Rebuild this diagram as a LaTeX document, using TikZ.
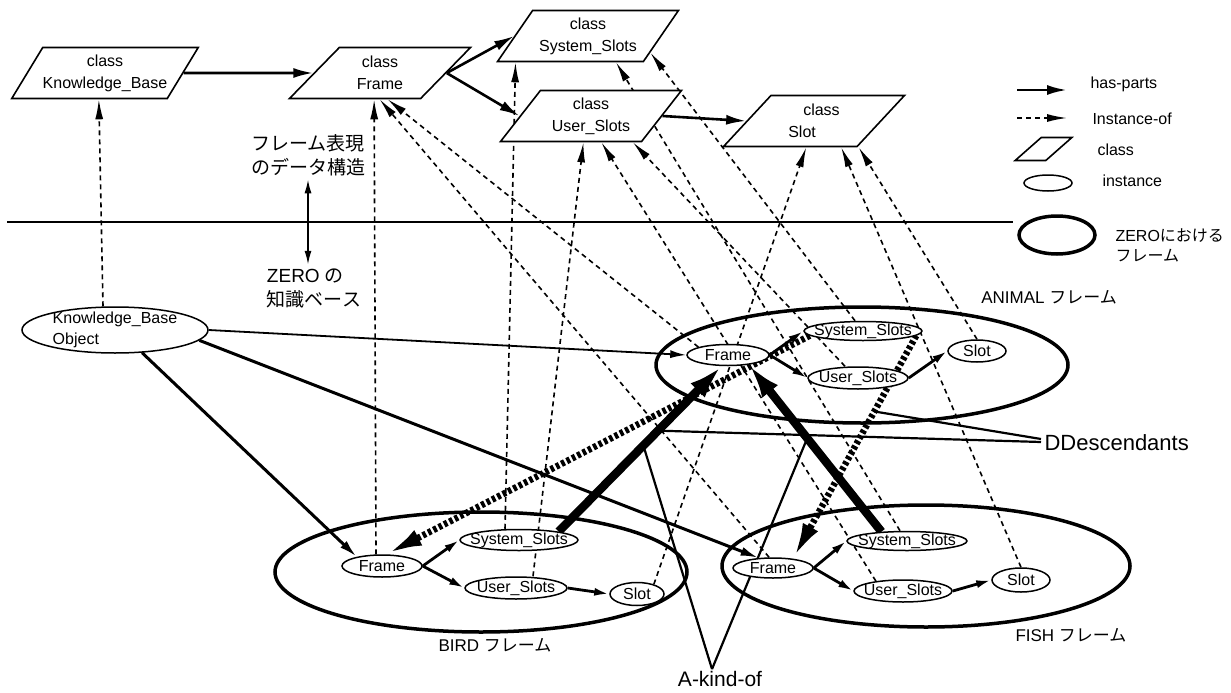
\documentclass[tikz,border=0pt]{standalone}
\usepackage{fontspec}
\setmainfont{Liberation Sans}
\newfontfamily\jpfont{Noto Sans CJK JP}
\usetikzlibrary{shapes.geometric,arrows.meta}
\pgfdeclarelayer{bg}
\pgfsetlayers{bg,main}

\begin{document}
\begin{tikzpicture}[x=1pt,y=-1pt,font=\fontsize{16}{19}\selectfont,
  cls/.style={draw,fill=white,line width=1.6pt,trapezium,trapezium left angle=50,trapezium right angle=130,
              trapezium stretches=true,minimum width=181pt,minimum height=51pt,inner sep=0pt,
              align=center,font=\fontsize{16}{22}\selectfont},
  inst/.style={draw,fill=white,ellipse,line width=1.5pt,inner xsep=-15pt,inner ysep=-3pt,font=\fontsize{16}{18}\selectfont},
  zframe/.style={draw,ellipse,line width=3.5pt,inner sep=0pt},
  jp/.style={font=\fontsize{19}{24}\selectfont\jpfont},
  lbl/.style={font=\fontsize{17}{20}\selectfont},
  parts/.style={line width=2.6pt,-{Latex[length=20pt,width=10pt]}},
  ipart/.style={line width=2.8pt,-{Latex[length=15pt,width=8pt]}},
  instof/.style={line width=1.6pt,dash pattern=on 5pt off 4pt,-{Latex[length=20pt,width=8pt]}},
  kbpart/.style={line width=3pt,-{Latex[length=18pt,width=9pt]}},
  kindof/.style={line width=8.5pt,-{Latex[length=34pt,width=20pt]}},
  desc/.style={line width=6.5pt,dash pattern=on 3.5pt off 2.5pt,-{Latex[length=36pt,width=17pt]}},
  note/.style={line width=2.2pt}]
 \useasboundingbox (0,0) rectangle (1231,693);

 % classes
 \node[cls] (cKB)    at (105,73)  {class\\Knowledge\_Base};
 \node[cls] (cFrame) at (380,73)  {class\\Frame};
 \node[cls] (cSys)   at (588,36)  {class\\System\_Slots};
 \node[cls] (cUser)  at (591,116) {class\\User\_Slots};
 \node[cls,align=left] (cSlot) at (814,121) {\hspace*{15pt}class\\Slot};

 \draw[line width=1.8pt] (7,222) -- (1013,222);
 \node[jp,align=center] (dataLbl) at (308,155) {フレーム表現\\のデータ構造};
 \node[jp,align=left]   (zeroLbl) at (314,288) {{\rmfamily ZERO} の\\知識ベース};

 % instances
 \node[inst,minimum width=186pt,minimum height=46pt,inner xsep=0pt,align=left,font=\fontsize{16}{21}\selectfont]
      (kbObj) at (115,330) {Knowledge\_Base\\Object};

 \node[zframe,minimum width=412pt,minimum height=120pt] (bird)   at (481,572) {};
 \node[zframe,minimum width=408pt,minimum height=122pt] (fish)   at (926,566) {};
 \node[zframe,minimum width=412pt,minimum height=116pt] (animal) at (862,365) {};

 \node[inst,minimum width=80pt, minimum height=22pt] (bFrame) at (382,566) {Frame};
 \node[inst,minimum width=118pt,minimum height=21pt] (bSys)   at (519,540) {System\_Slots};
 \node[inst,minimum width=102pt,minimum height=22pt] (bUser)  at (516,588) {User\_Slots};
 \node[inst,minimum width=54pt, minimum height=23pt] (bSlot)  at (637,594) {Slot};

 \node[inst,minimum width=82pt, minimum height=21pt] (aFrame) at (728,355) {Frame};
 \node[inst,minimum width=118pt,minimum height=19pt] (aSys)   at (863,331) {System\_Slots};
 \node[inst,minimum width=100pt,minimum height=22pt] (aUser)  at (858,378) {User\_Slots};
 \node[inst,minimum width=58pt, minimum height=22pt] (aSlot)  at (977,351) {Slot};

 \node[inst,minimum width=80pt, minimum height=20pt] (fFrame) at (773,568) {Frame};
 \node[inst,minimum width=120pt,minimum height=19pt] (fSys)   at (907,541) {System\_Slots};
 \node[inst,minimum width=98pt, minimum height=22pt] (fUser)  at (903,591) {User\_Slots};
 \node[inst,minimum width=58pt, minimum height=24pt] (fSlot)  at (1021,580) {Slot};

 \node[lbl] (birdLbl)   at (495,645)  {BIRD {\jpfont フレーム}};
 \node[lbl] (fishLbl)   at (1071,635) {FISH {\jpfont フレーム}};
 \node[lbl] (animalLbl) at (1049,297) {ANIMAL {\jpfont フレーム}};
 \node[anchor=west,font=\fontsize{22}{26}\selectfont] (descLbl) at (1041,443) {DDescendants};
 \node[font=\fontsize{21}{25}\selectfont,inner sep=2pt] (akLbl) at (720,679) {A-kind-of};

 % legend
 \coordinate (lgHasA) at (1017,90);
 \coordinate (lgHasB) at (1067,90);
 \coordinate (lgInsA) at (1017,118);
 \coordinate (lgInsB) at (1067,118);
 \draw[parts]  (lgHasA) -- (lgHasB);
 \draw[instof] (lgInsA) -- (lgInsB);
 \node[anchor=west] (lgHas) at (1087,84)  {has-parts};
 \node[anchor=west] (lgIns) at (1089,119) {Instance-of};
 \node[draw,line width=1.6pt,trapezium,trapezium left angle=45,trapezium right angle=135,trapezium stretches=true,
       minimum width=57pt,minimum height=18pt,inner sep=2pt] (lgCls) at (1043.5,149) {\strut};
 \node[anchor=west] (lgClsT) at (1094,150) {class};
 \node[draw,ellipse,line width=1.5pt,minimum width=48pt,minimum height=16pt,inner sep=0pt] (lgInst) at (1048,183) {};
 \node[anchor=west] (lgInstT) at (1099,181) {instance};
 \node[zframe,minimum width=76pt,minimum height=38pt] (lgZero) at (1057,235) {};
 \node[anchor=west,align=left,font=\fontsize{16}{20}\selectfont] (lgZeroT) at (1112,245)
      {ZERO{\jpfont における}\\{\jpfont フレーム}};

 \begin{pgfonlayer}{bg}
  % has-parts
  \draw[parts] (cKB) -- (cFrame);
  \draw[parts] (cFrame.right side) -- (cSys.left side);
  \draw[parts] (cFrame.right side) -- (cUser.left side);
  \draw[parts] (cUser.right side) -- (cSlot.left side);
  \draw[ipart] (bFrame.east) -- (bSys.west);
  \draw[ipart] (bFrame.east) -- (bUser.west);
  \draw[ipart] (bUser.east) -- (bSlot.west);
  \draw[ipart] (aFrame.east) -- (aSys.west);
  \draw[ipart] (aFrame.east) -- (aUser.west);
  \draw[ipart] (aUser.east) -- (aSlot.west);
  \draw[ipart] (fFrame.east) -- (fSys.west);
  \draw[ipart] (fFrame.east) -- (fUser.west);
  \draw[ipart] (fUser.east) -- (fSlot.west);

  % instance-of
  \draw[instof] ([xshift=-12pt]kbObj.north) -- ([xshift=88.5pt]cKB.bottom left corner);
  \draw[instof] ([xshift=-6pt]bFrame.north) -- ([xshift=86.5pt]cFrame.bottom left corner);
  \draw[instof] (aFrame.165) -- ([xshift=100pt]cFrame.bottom left corner);
  \draw[instof] (fFrame.110) -- ([xshift=92pt]cFrame.bottom left corner);
  \draw[instof] ([xshift=-14pt]bSys.north) -- ([xshift=19.5pt]cSys.bottom left corner);
  \draw[instof] ([xshift=-7pt]fSys.north) -- ([xshift=120pt]cSys.bottom left corner);
  \draw[instof] ([xshift=-8pt]aSys.north) -- (cSys.-15);
  \draw[instof] ([xshift=17pt]bUser.north) -- ([xshift=84.5pt]cUser.bottom left corner);
  \draw[instof] (fUser.160) -- ([xshift=102.5pt]cUser.bottom left corner);
  \draw[instof] ([xshift=-13pt]aUser.north) -- ([xshift=134pt]cUser.bottom left corner);
  \draw[instof] (bSlot.30) -- ([xshift=84.5pt]cSlot.bottom left corner);
  \draw[instof] (fSlot.north) -- ([xshift=119.5pt]cSlot.bottom left corner);
  \draw[instof] (aSlot.north) -- ([xshift=137pt]cSlot.bottom left corner);

  % knowledge base object
  \draw[line width=1.8pt,-{Latex[length=16pt,width=8pt]}] (kbObj.east) -- (aFrame.west);
  \draw[kbpart] (kbObj.-7) -- (fFrame.145);
  \draw[kbpart] (kbObj.-40) -- (bFrame.160);

  % a-kind-of and descendants
  \draw[kindof] (bSys.12) -- coordinate[pos=0.52] (akB) coordinate[pos=0.61] (dsB) (aFrame.-120);
  \draw[kindof] (fSys.160) -- coordinate[pos=0.56] (akF) (aFrame.-25);
  \draw[desc] (aSys.-175) -- (bFrame.70);
  \draw[desc] (aSys.-5) -- coordinate[pos=0.34] (dsF) (fFrame.25);
  \draw[note] ([xshift=-8pt]akLbl.north) -- (akB);
  \draw[note] ([xshift=-8pt]akLbl.north) -- (akF);
  \draw[note] ([yshift=4pt]descLbl.west) -- (dsF);
  \draw[note] ([yshift=1pt]descLbl.west) -- (dsB);

  \draw[line width=1.8pt,{Latex[length=14pt,width=7pt]}-{Latex[length=14pt,width=7pt]}]
       (dataLbl.south) -- (dataLbl.south |- zeroLbl.north);
 \end{pgfonlayer}
\end{tikzpicture}
\end{document}
